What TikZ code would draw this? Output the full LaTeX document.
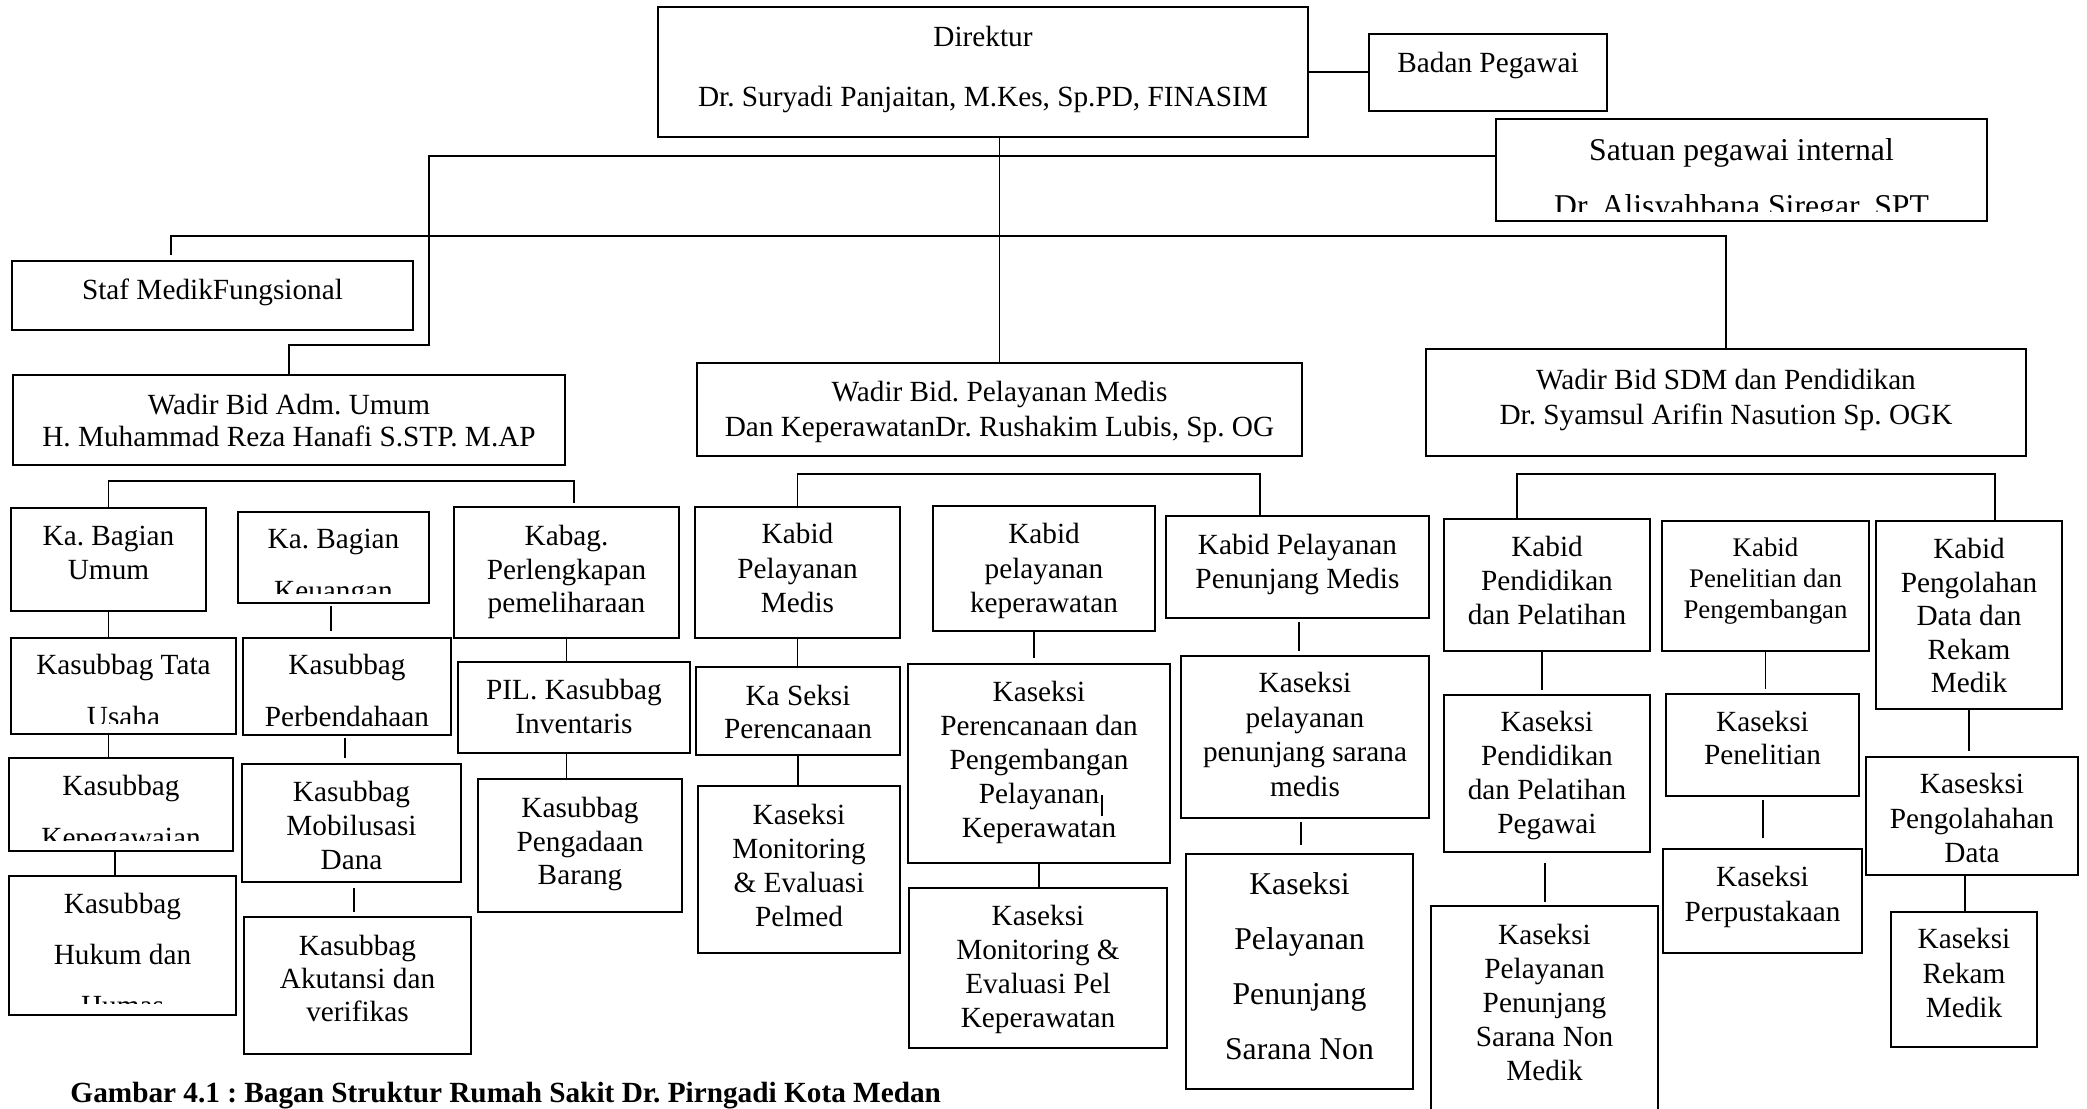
\documentclass[tikz,border=0pt]{standalone}
\usepackage{fontspec}
\setmainfont{Liberation Serif}
\usetikzlibrary{fit,calc}
\frenchspacing
\tikzset{
  boxst/.style={draw, line width=0.9pt, inner sep=0pt},
  ln/.style={line width=0.75pt},
  txt/.style={anchor=north, inner sep=0pt, align=center},
}
\newcommand\bx[5]{\node[boxst, fit={(#2,#3) (#4,#5)}] (#1) {};}
\newcommand\tx[6]{\node[txt, font=\fontsize{#4}{#5}\selectfont] (#1) at ($(#2.north |- 0,#3)+(0,-11)$) {#6};}
\newcommand\txc[7]{\begin{scope}\clip (#2.north west) rectangle (#2.east |- 0,#7);
  \tx{#1}{#2}{#3}{#4}{#5}{#6}\end{scope}}
\begin{document}
\frenchspacing
\begin{tikzpicture}[x=0.41pt, y=-0.41pt]
\useasboundingbox (0,0) rectangle (2087,1108);
\fill[white] (0,0) rectangle (2087,1108);
% ---------- boxes ----------
\bx{dir}{658}{7}{1308}{137}
\bx{badan}{1369}{34}{1607}{111}
\bx{satuan}{1496}{119}{1987}{221}
\bx{staf}{12}{261}{413}{330}
\bx{wadm}{13}{375}{565}{465}
\bx{wpel}{697}{363}{1302}{456}
\bx{wsdm}{1426}{349}{2026}{456}
\bx{kbu}{11}{508}{206}{611}
\bx{keu}{238}{512}{429}{603}
\bx{kperl}{454}{507}{679}{638}
\bx{tata}{11}{638}{236}{734}
\bx{perb}{243}{638}{451}{735}
\bx{pil}{458}{662}{690}{753}
\bx{kepeg}{9}{758}{233}{851}
\bx{mobil}{242}{764}{461}{882}
\bx{pengad}{478}{779}{682}{912}
\bx{hukum}{9}{876}{236}{1015}
\bx{akut}{244}{917}{471}{1054}
\bx{kpm}{695}{507}{900}{638}
\bx{kasper}{696}{667}{900}{755}
\bx{monpel}{698}{786}{900}{953}
\bx{kkep}{933}{506}{1155}{631}
\bx{kperen}{908}{664}{1170}{863}
\bx{monkep}{909}{888}{1167}{1048}
\bx{kpen}{1166}{516}{1429}{618}
\bx{kspen}{1181}{656}{1429}{818}
\bx{ksnon}{1186}{854}{1413}{1089}
\bx{kpend}{1444}{519}{1650}{651}
\bx{kspend}{1444}{695}{1650}{852}
\bx{ksnonm}{1431}{906}{1658}{1116}
\bx{kpenel}{1662}{521}{1869}{651}
\bx{kspenel}{1666}{694}{1859}{796}
\bx{kspust}{1663}{849}{1862}{953}
\bx{kpeng}{1876}{521}{2062}{709}
\bx{kspeng}{1866}{757}{2078}{875}
\bx{ksrek}{1891}{912}{2037}{1047}
% ---------- texts ----------
\tx{dirA}{dir}{37}{12pt}{13.94pt}{Direktur}
\tx{dirB}{dir}{97}{12pt}{13.94pt}{Dr. Suryadi Panjaitan, M.Kes, Sp.PD, FINASIM}
\tx{badanT}{badan}{63}{12pt}{13.94pt}{Badan Pegawai}
\txc{satuanT}{satuan}{149}{13pt}{22.96pt}{Satuan pegawai internal\\Dr. Alisyahbana Siregar, SPT}{211}
\tx{stafT}{staf}{289}{12pt}{13.94pt}{Staf MedikFungsional}
\tx{wadmT}{wadm}{405}{12pt}{13.12pt}{Wadir Bid Adm. Umum\\H. Muhammad Reza Hanafi S.STP. M.AP}
\tx{wpelT}{wpel}{392}{12pt}{14.35pt}{Wadir Bid. Pelayanan Medis\\Dan KeperawatanDr. Rushakim Lubis, Sp. OG}
\tx{wsdmT}{wsdm}{380}{12pt}{14.35pt}{Wadir Bid SDM dan Pendidikan\\Dr. Syamsul Arifin Nasution Sp. OGK}
\tx{kbuT}{kbu}{537}{12pt}{13.94pt}{Ka. Bagian\\Umum}
\txc{keuT}{keu}{540}{12pt}{21.32pt}{Ka. Bagian\\Keuangan}{593}
\tx{kperlT}{kperl}{536}{12pt}{13.74pt}{Kabag.\\Perlengkapan\\pemeliharaan}
\txc{tataT}{tata}{665}{12pt}{21.32pt}{Kasubbag Tata\\Usaha}{723}
\txc{perbT}{perb}{665}{12pt}{21.32pt}{Kasubbag\\Perbendahaan}{727}
\tx{pilT}{pil}{690}{12pt}{13.94pt}{PIL. Kasubbag\\Inventaris}
\txc{kepegT}{kepeg}{786}{12pt}{21.32pt}{Kasubbag\\Kepegawaian}{840}
\tx{mobilT}{mobil}{792}{12pt}{13.94pt}{Kasubbag\\Mobilusasi\\Dana}
\tx{pengadT}{pengad}{808}{12pt}{13.74pt}{Kasubbag\\Pengadaan\\Barang}
\txc{hukumT}{hukum}{904}{12pt}{20.91pt}{Kasubbag\\Hukum dan\\Humas}{1003}
\tx{akutT}{akut}{946}{12pt}{13.53pt}{Kasubbag\\Akutansi dan\\verifikas}
\tx{kpmT}{kpm}{534}{12pt}{14.15pt}{Kabid\\Pelayanan\\Medis}
\tx{kasperT}{kasper}{696}{12pt}{13.53pt}{Ka Seksi\\Perencanaan}
\tx{monpelT}{monpel}{815}{12pt}{13.94pt}{Kaseksi\\Monitoring\\\& Evaluasi\\Pelmed}
\tx{kkepT}{kkep}{534}{12pt}{14.15pt}{Kabid\\pelayanan\\keperawatan}
\tx{kperenT}{kperen}{692}{12pt}{13.94pt}{Kaseksi\\Perencanaan dan\\Pengembangan\\Pelayanan\\Keperawatan}
\tx{monkepT}{monkep}{916}{12pt}{13.94pt}{Kaseksi\\Monitoring \&\\Evaluasi Pel\\Keperawatan}
\tx{kpenT}{kpen}{545}{12pt}{13.94pt}{Kabid Pelayanan\\Penunjang Medis}
\tx{kspenT}{kspen}{683}{12pt}{14.15pt}{Kaseksi\\pelayanan\\penunjang sarana\\medis}
\tx{ksnonT}{ksnon}{883}{13pt}{22.55pt}{Kaseksi\\Pelayanan\\Penunjang\\Sarana Non}
\tx{kpendT}{kpend}{547}{12pt}{13.94pt}{Kabid\\Pendidikan\\dan Pelatihan}
\tx{kspendT}{kspend}{722}{12pt}{13.94pt}{Kaseksi\\Pendidikan\\dan Pelatihan\\Pegawai}
\tx{ksnonmT}{ksnonm}{935}{12pt}{13.94pt}{Kaseksi\\Pelayanan\\Penunjang\\Sarana Non\\Medik}
\tx{kpenelT}{kpenel}{548}{11pt}{12.71pt}{Kabid\\Penelitian dan\\Pengembangan}
\tx{kspenelT}{kspenel}{722}{12pt}{13.53pt}{Kaseksi\\Penelitian}
\tx{kspustT}{kspust}{877}{12pt}{14.35pt}{Kaseksi\\Perpustakaan}
\tx{kpengT}{kpeng}{549}{12pt}{13.74pt}{Kabid\\Pengolahan\\Data dan\\Rekam\\Medik}
\tx{kspengT}{kspeng}{784}{12pt}{14.15pt}{Kasesksi\\Pengolahahan\\Data}
\tx{ksrekT}{ksrek}{939}{12pt}{14.15pt}{Kaseksi\\Rekam\\Medik}
\node[anchor=base west, inner sep=0pt, font=\fontsize{12pt}{14pt}\selectfont\bfseries] (cap) at (70,1102) {Gambar 4.1 : Bagan Struktur Rumah Sakit Dr. Pirngadi Kota Medan};
% ---------- connectors ----------
\draw[ln] (dir.east) -- (badan.west |- dir.east);
\draw[ln] (dir.south -| wpel.north) -- (wpel.north);
\coordinate (j1) at (429,156); \coordinate (j2) at (429,345);
\draw[ln] (satuan.west |- j1) -- (j1) -- (j2) -- (j2 -| wadm.north) -- (wadm.north);
\coordinate (s1) at (171,255); \coordinate (s2) at (171,236);
\draw[ln] (s1) -- (s2) -- (s2 -| wsdm.north) -- (wsdm.north);
% Adm
\coordinate (a1) at (574,481); \coordinate (a2) at (574,503);
\draw[ln] (kbu.north) -- (kbu.north |- a1) -- (a1) -- (a2);
\draw[ln] (kbu.south) -- (kbu.south |- tata.north);
\draw[ln] (tata.south -| kbu.south) -- (kepeg.north -| kbu.south);
\draw[ln] ($(kepeg.south)+(-6,0)$) -- ($(kepeg.south |- hukum.north)+(-6,0)$);
\coordinate (k1) at (331,606); \coordinate (k2) at (331,631);
\draw[ln] (k1) -- (k2);
\coordinate (k3) at (345,738); \coordinate (k4) at (345,758);
\draw[ln] (k3) -- (k4);
\coordinate (k5) at (354,888); \coordinate (k6) at (354,912);
\draw[ln] (k5) -- (k6);
\draw[ln] (kperl.south) -- (kperl.south |- pil.north);
\draw[ln] (pil.south -| kperl.south) -- (pengad.north -| kperl.south);
% Pelayanan medis
\coordinate (m1) at (1260,474);
\draw[ln] (kpm.north) -- (kpm.north |- m1) -- (m1) -- (m1 |- kpen.north);
\draw[ln] (kpm.south) -- (kpm.south |- kasper.north);
\draw[ln] (kasper.south) -- (kasper.south |- monpel.north);
\draw[ln] ($(kkep.south)+(-10,0)$) -- ($(kkep.south |- kperen.north)+(-10,-5)$);
\draw[ln] (kperen.south) -- (kperen.south |- monkep.north);
\coordinate (st1) at (1102,795); \coordinate (st2) at (1102,816);
\draw[ln] (st1) -- (st2);
\coordinate (p1) at (1299,622); \coordinate (p2) at (1299,651);
\draw[ln] (p1) -- (p2);
\coordinate (p3) at (1301,822); \coordinate (p4) at (1301,845);
\draw[ln] (p3) -- (p4);
% SDM
\coordinate (d1) at (1517,474); \coordinate (d2) at (1995,474);
\draw[ln] (d1 |- kpend.north) -- (d1) -- (d2) -- (d2 |- kpeng.north);
\draw[ln] ($(kpend.south)+(-5,0)$) -- ($(kpend.south |- kspend.north)+(-5,-4)$);
\coordinate (e1) at (1545,863); \coordinate (e2) at (1545,902);
\draw[ln] (e1) -- (e2);
\draw[ln] (kpenel.south) -- ($(kpenel.south |- kspenel.north)+(0,-4)$);
\coordinate (e3) at (1763,800); \coordinate (e4) at (1763,838);
\draw[ln] (e3) -- (e4);
\draw[ln] (kpeng.south) -- ($(kpeng.south |- kspeng.north)+(0,-5)$);
\draw[ln] ($(kspeng.south)+(-7,0)$) -- ($(kspeng.south |- ksrek.north)+(-7,0)$);
\end{tikzpicture}
\end{document}
